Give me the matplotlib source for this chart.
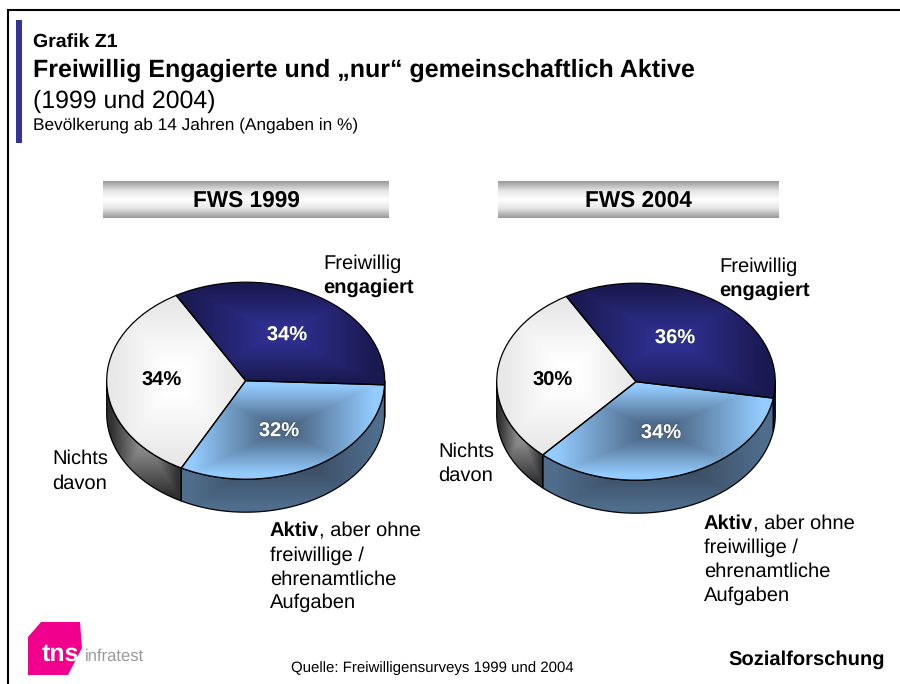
import numpy as np
import matplotlib
matplotlib.use("Agg")
import matplotlib.pyplot as plt
from matplotlib.patches import Rectangle, Polygon
import matplotlib.patheffects as pe
from matplotlib.colors import LinearSegmentedColormap

# ---- data ----
survey_titles = ["FWS 1999", "FWS 2004"]
values_1999 = [34, 32, 34]   # engagiert, aktiv, nichts davon
values_2004 = [36, 34, 30]

heading_small = "Grafik Z1"
heading_main = "Freiwillig Engagierte und \u201enur\u201c gemeinschaftlich Aktive"
heading_years = "(1999 und 2004)"
heading_base = "Bev\u00f6lkerung ab 14 Jahren (Angaben in %)"
source_text = "Quelle: Freiwilligensurveys 1999 und 2004"
footer_text = "Sozialforschung"

# ---- styles ----
W, H = 900, 684
plt.rcParams["font.family"] = ["Liberation Sans", "DejaVu Sans"]
plt.rcParams["text.hinting"] = "no_hinting"
DEPTH = 0.335   # side height in units of vertical radius
START = 120

# centre / edge colours of each top wedge and each side wall
top_styles = [("#2f2f90", "#1a1a52"), ("#4f6b8a", "#94ccff"), ("#ffffff", "#e8e8e8")]
side_styles = [("#1a1a52", "#1a1a52"), ("#36465a", "#4f6d8c"), ("#8a8a8a", "#303030")]
label_colors = ["white", "white", "black"]

pie_boxes = [(245.7, 380.7, 139.0, 98.5), (636.0, 381.7, 139.3, 98.5)]
label_positions = [[(287, 335), (279, 431), (162, 381)],
                   [(675, 338), (661, 433), (553, 381)]]
bar_boxes = [(103, 181, 286, 37), (498, 181, 281, 37)]

fig = plt.figure(figsize=(W / 100, H / 100), dpi=100, facecolor="white")
ov = fig.add_axes([0, 0, 1, 1], zorder=5)
ov.set_xlim(0, W)
ov.set_ylim(H, 0)
ov.axis("off")
ov.patch.set_alpha(0)
bg = fig.add_axes([0, 0, 1, 1], zorder=0)
bg.set_xlim(0, W)
bg.set_ylim(H, 0)
bg.axis("off")


def box_gradient(ax, patch, inner, outer, bounds):
    x0, x1, y0, y1 = bounds
    xs = np.linspace(-1, 1, 240)
    X, Y = np.meshgrid(xs, xs)
    t = np.maximum(np.abs(X), np.abs(Y))
    cmap = LinearSegmentedColormap.from_list(
        "g", [(0, inner), (0.15, inner), (0.9, outer), (1, outer)])
    im = ax.imshow(t, extent=(x0, x1, y0, y1), origin="lower", cmap=cmap, vmin=0, vmax=1,
                   aspect="auto", interpolation="bilinear", zorder=patch.get_zorder() - 0.5)
    im.set_clip_path(patch)
    return im


def draw_pie(box, values, positions):
    cx, cy, rx, ry = box
    left = (cx - rx) / W
    height_px = ry * (2 + DEPTH)
    bottom = 1 - (cy + ry * (1 + DEPTH)) / H
    ax = fig.add_axes([left, bottom, 2 * rx / W, height_px / H], zorder=2)
    wedges, _ = ax.pie(values, startangle=START, counterclock=False, radius=1,
                       colors=["none"] * len(values),
                       wedgeprops=dict(edgecolor="black", linewidth=0.9, zorder=5, clip_on=False))
    ax.set_aspect("auto")
    # side walls, derived from the same wedge angles
    for w, (inner, outer) in zip(wedges, side_styles):
        a0, a1 = w.theta1, w.theta2
        for shift in (0, 360):
            s0, s1 = max(a0 + shift, 180), min(a1 + shift, 360)
            if s1 <= s0:
                continue
            t = np.radians(np.linspace(s0, s1, 120))
            xa, ya = np.cos(t), np.sin(t)
            verts = np.concatenate([np.c_[xa, ya], np.c_[xa[::-1], ya[::-1] - DEPTH]])
            side = Polygon(verts, closed=True, facecolor="none", edgecolor="black",
                           linewidth=0.9, zorder=3, clip_on=False)
            ax.add_patch(side)
            bounds = (xa.min(), xa.max(), ya.min() - DEPTH, ya.max())
            box_gradient(ax, side, inner, outer, bounds)
    # top surface gradients
    for w, (inner, outer) in zip(wedges, top_styles):
        ext = w.get_path().transformed(w.get_patch_transform()).get_extents()
        box_gradient(ax, w, inner, outer, (ext.x0, ext.x1, ext.y0, ext.y1))
    ax.set_xlim(-1, 1)
    ax.set_ylim(-1 - DEPTH, 1)
    ax.axis("off")
    for v, (x, y), c in zip(values, positions, label_colors):
        txt = ov.text(x, y, f"{v}%", ha="center", va="center", fontsize=14.5, fontweight="bold", color=c)
        if c == "white":
            txt.set_path_effects([pe.withStroke(linewidth=1.0, foreground="#20304a", alpha=0.45)])


# frame
bg.plot([8, 8, W], [H, 10, 10], color="black", lw=1.5, solid_joinstyle="miter")
bg.add_patch(Rectangle((16, 20), 6, 123, facecolor="#333399", edgecolor="none"))

# header bars
bar_cmap = LinearSegmentedColormap.from_list(
    "bar", [(0, "#9a9a9a"), (0.25, "#e4e4e4"), (0.5, "#ffffff"), (0.75, "#e4e4e4"), (1, "#9a9a9a")])
for (x, y, w, h), title in zip(bar_boxes, survey_titles):
    bg.imshow(np.linspace(0, 1, 64)[:, None], extent=(x, x + w, y + h, y), cmap=bar_cmap,
              aspect="auto", zorder=2)
    ov.text(x + w / 2, y + h / 2 + 1.5, title, ha="center", va="center", fontsize=16.3, fontweight="bold")
bg.set_xlim(0, W)
bg.set_ylim(H, 0)

for box, vals, pos in zip(pie_boxes, [values_1999, values_2004], label_positions):
    draw_pie(box, vals, pos)

# heading
ov.text(33, 47, heading_small, fontsize=14, fontweight="bold", va="baseline")
ov.text(33, 77, heading_main, fontsize=18, fontweight="bold", va="baseline")
ov.text(33, 108, heading_years, fontsize=17.9, va="baseline")
ov.text(33, 129, heading_base, fontsize=12.4, va="baseline")


def lines(x, ys, rows, size=14.5):
    for y, row in zip(ys, rows):
        cur = x
        for s, weight in row:
            t = ov.text(cur, y, s, fontsize=size, fontweight=weight, va="baseline")
            cur += t.get_window_extent(fig.canvas.get_renderer()).width


R, B = "normal", "bold"
lines(323, [269, 293], [[("Freiwillig", R)], [("engagiert", B)]])
lines(719, [272, 296], [[("Freiwillig", R)], [("engagiert", B)]])
lines(52, [464, 489], [[("Nichts", R)], [("davon", R)]])
lines(438, [457, 481], [[("Nichts", R)], [("davon", R)]])
aktiv_rows = [[("Aktiv", B), (", aber ohne", R)], [("freiwillige /", R)], [("ehrenamtliche", R)], [("Aufgaben", R)]]
lines(270, [536, 561, 585, 608], aktiv_rows)
lines(704, [529, 553, 577, 601], aktiv_rows)

# footer
ov.text(291, 672, source_text, fontsize=10.8, va="baseline")
ov.text(728, 665, footer_text, fontsize=14.5, fontweight="bold", va="baseline")

# logo
bg.add_patch(Polygon([(28, 637), (41, 622), (80, 622), (82, 648), (68, 675), (28, 675)],
                     closed=True, facecolor="#f0008c", edgecolor="none"))
ov.text(42, 661, "tns", fontsize=18, fontweight="bold", color="white", va="baseline")
ov.text(85, 661, "infratest", fontsize=12, color="#9a9a9a", va="baseline",
        family=["Liberation Sans Narrow", "Liberation Sans", "DejaVu Sans"])

fig.savefig("out.png", dpi=100)
